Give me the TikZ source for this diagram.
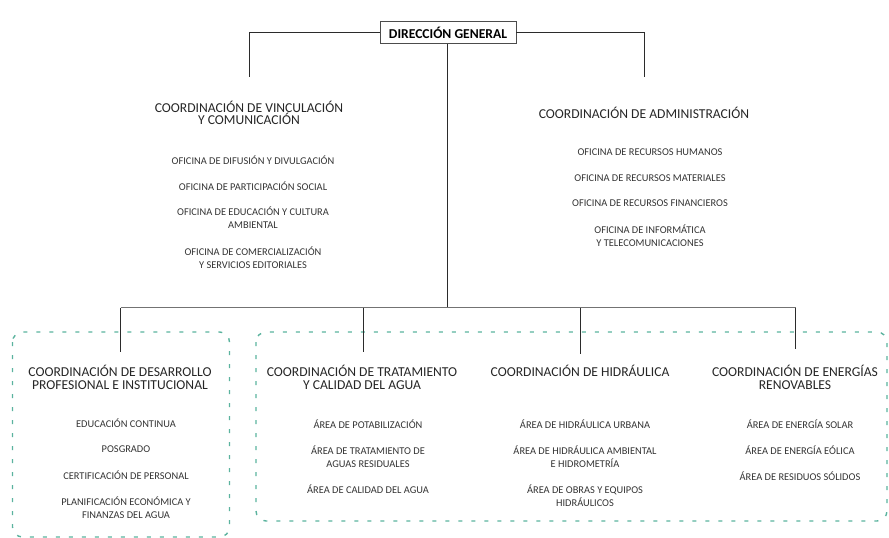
\documentclass[tikz,border=0pt]{standalone}
\usepackage{fontspec}
\setmainfont{Carlito}
\definecolor{verde}{HTML}{5BB39E}
\definecolor{linea}{HTML}{2B2B2B}
\tikzset{
  coord/.style={align=center, font=\fontsize{13.6}{12.5}\selectfont, text=black!85},
  item/.style={align=center, font=\fontsize{10.4}{13}\selectfont, text=black!80},
  conn/.style={draw=linea, line width=0.9pt},
  bus/.style={draw=black!55, line width=1.1pt},
  grupo/.style={draw=verde, line width=1.4pt, rounded corners=10pt, dash pattern=on 4pt off 9pt}
}
\begin{document}
\begin{tikzpicture}[x=1pt,y=-1pt]
  \useasboundingbox (0,0) rectangle (889,538);
  % grupos
  \draw[grupo] (12.5,332) rectangle (229.5,537);
  \draw[grupo] (256,332) rectangle (887,521);
  % direccion
  \node[draw=black!70, line width=0.9pt, fill=white, minimum width=136pt, minimum height=22pt,
        inner sep=0pt, font=\fontsize{13.6}{14}\selectfont\bfseries] (dir) at (448,32.5) {DIRECCIÓN GENERAL};
  % coordinaciones de arriba
  \node[coord] (vinc) at (249,113) {COORDINACIÓN DE VINCULACIÓN\\Y COMUNICACIÓN};
  \node[coord] (admin) at (644,113) {COORDINACIÓN DE ADMINISTRACIÓN};
  \foreach \n/\y/\t in {1/160/OFICINA DE DIFUSIÓN Y DIVULGACIÓN,
                        2/186/OFICINA DE PARTICIPACIÓN SOCIAL,
                        3/218/{OFICINA DE EDUCACIÓN Y CULTURA\\AMBIENTAL},
                        4/257.5/{OFICINA DE COMERCIALIZACIÓN\\Y SERVICIOS EDITORIALES}}
    \node[item] (vinc\n) at (253,\y) {\t};
  \foreach \n/\y/\t in {1/152/OFICINA DE RECURSOS HUMANOS,
                        2/178/OFICINA DE RECURSOS MATERIALES,
                        3/203.5/OFICINA DE RECURSOS FINANCIEROS,
                        4/236/{OFICINA DE INFORMÁTICA\\Y TELECOMUNICACIONES}}
    \node[item] (admin\n) at (650,\y) {\t};
  % coordinaciones de abajo
  \node[coord] (des) at (120,377.5) {COORDINACIÓN DE DESARROLLO\\PROFESIONAL E INSTITUCIONAL};
  \node[coord] (trat) at (362,377.5) {COORDINACIÓN DE TRATAMIENTO\\Y CALIDAD DEL AGUA};
  \node[coord] (hid) at (580,371) {COORDINACIÓN DE HIDRÁULICA};
  \node[coord] (ene) at (795,377.5) {COORDINACIÓN DE ENERGÍAS\\RENOVABLES};
  \foreach \n/\y/\t in {1/423.5/EDUCACIÓN CONTINUA,
                        2/449.5/POSGRADO,
                        3/475/CERTIFICACIÓN DE PERSONAL,
                        4/507.5/{PLANIFICACIÓN ECONÓMICA Y\\FINANZAS DEL AGUA}}
    \node[item] (des\n) at (126,\y) {\t};
  \foreach \n/\y/\t in {1/424/ÁREA DE POTABILIZACIÓN,
                        2/456.5/{ÁREA DE TRATAMIENTO DE\\AGUAS RESIDUALES},
                        3/489/ÁREA DE CALIDAD DEL AGUA}
    \node[item] (trat\n) at (368,\y) {\t};
  \foreach \n/\y/\t in {1/424/ÁREA DE HIDRÁULICA URBANA,
                        2/456.5/{ÁREA DE HIDRÁULICA AMBIENTAL\\E HIDROMETRÍA},
                        3/495.5/{ÁREA DE OBRAS Y EQUIPOS\\HIDRÁULICOS}}
    \node[item] (hid\n) at (585,\y) {\t};
  \foreach \n/\y/\t in {1/424/ÁREA DE ENERGÍA SOLAR,
                        2/450/ÁREA DE ENERGÍA EÓLICA,
                        3/476/ÁREA DE RESIDUOS SÓLIDOS}
    \node[item] (ene\n) at (800,\y) {\t};
  % conectores
  \coordinate (vincTop) at (249.5,77);
  \coordinate (adminTop) at (644,77);
  \coordinate (bus) at (447,307.5);
  \coordinate (desTop) at (120.5,352);
  \coordinate (tratTop) at (363.5,352);
  \coordinate (hidTop) at (580,354);
  \coordinate (eneTop) at (795.5,349);
  \draw[conn] (dir.west) -| (vincTop);
  \draw[conn] (dir.east) -| (adminTop);
  \draw[conn] (dir.south -| bus) -- (bus);
  \draw[bus] (desTop |- bus) -- (eneTop |- bus);
  \foreach \c in {desTop,tratTop,hidTop,eneTop}
    \draw[conn] (\c |- bus) -- (\c);
\end{tikzpicture}
\end{document}
